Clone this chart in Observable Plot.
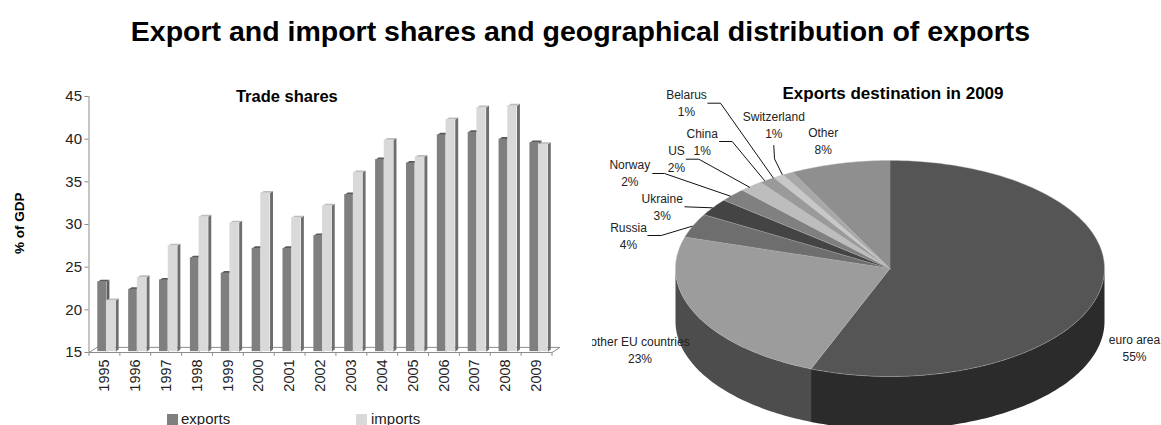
<!DOCTYPE html>
<html><head><meta charset="utf-8">
<script src="https://cdn.jsdelivr.net/npm/d3@7"></script>
<script src="https://cdn.jsdelivr.net/npm/@observablehq/plot@0.6"></script>
<style>
html,body{margin:0;padding:0;width:1161px;height:425px;overflow:hidden;background:#fff}
body{position:relative;font-family:"Liberation Sans",sans-serif;color:#222}
#title{position:absolute;left:0;top:15px;width:1161px;text-align:center;font:bold 28.5px "Liberation Sans",Arial,sans-serif;color:#000;line-height:32px;white-space:nowrap}
#left{position:absolute;left:0;top:80px;width:590px;height:330px;overflow:hidden}
#right{position:absolute;left:592px;top:80px;width:569px;height:345px;overflow:hidden}
#legend{position:absolute;left:0;top:411px;width:590px;height:14px;font-size:15px;line-height:16px}
#legend span{position:absolute;white-space:nowrap}
#legend i{position:absolute;top:3px;width:11px;height:11px}
svg{display:block;background:transparent}
</style></head><body>
<div id="title">Export and import shares and geographical distribution of exports</div>
<div id="left"></div>
<div id="legend"></div>
<div id="right"></div>
<script>
const years = ["1995","1996","1997","1998","1999","2000","2001","2002","2003","2004","2005","2006","2007","2008","2009"];
const exportsShare = [23.3,22.4,23.5,26.1,24.3,27.2,27.2,28.7,33.5,37.6,37.2,40.5,40.8,40.0,39.6];
const importsShare = [21.1,23.8,27.5,30.9,30.2,33.7,30.8,32.2,36.1,39.9,37.9,42.3,43.7,43.9,39.4];
const yTicks = [15,20,25,30,35,40,45];

const destinations = ["euro area","other EU countries","Russia","Ukraine","Norway","US","China","Belarus","Switzerland","Other"];
const printedShares = [55,23,4,3,2,2,1,1,1,8];
const sliceShares = [56.0,23.7,3.6,2.6,2.0,1.8,1.2,0.8,0.8,7.5];
const topColors = ["#555555","#9c9c9c","#6e6e6e","#444444","#808080","#bdbdbd","#9a9a9a","#c8c8c8","#a8a8a8","#8f8f8f"];
const wallColors = ["#2b2b2b","#4d4d4d"];

// ---- Bar chart ----
const barLeft = {x0:.285,x1:.566}, barRight = {x0:.566,x1:.866};
const depthX = .095, depthY = .24, base = 15.1;
function faces(values, slot, side, top, prefix){
  const out=[];
  values.forEach((v,i)=>{
    const a=i+slot.x0,b=i+slot.x1;
    [[b,base],[b+depthX,base+depthY],[b+depthX,v+depthY],[b,v]].forEach(p=>out.push({x:p[0],y:p[1],z:prefix+i+"s",c:side}));
    [[a,v],[a+depthX,v+depthY],[b+depthX,v+depthY],[b,v]].forEach(p=>out.push({x:p[0],y:p[1],z:prefix+i+"t",c:top}));
  });
  return out;
}
const poly = (data)=>Plot.line(data,{x:"x",y:"y",z:"z",fill:"c",stroke:null,curve:"linear"});
const front = (values,slot,fill)=>Plot.rect(values,{x1:(d,i)=>i+slot.x0,x2:(d,i)=>i+slot.x1,y1:base,y2:d=>d,fill});
const axisGrey="#8c8c8c", ink="#222";
const bandEdges=d3.range(0,16);
const floorDX=.26, floorDY=.6;
const left=Plot.plot({
  width:590,height:330,margin:0,
  style:{fontFamily:'"Liberation Sans",sans-serif',background:"transparent",color:ink,overflow:"hidden"},
  x:{domain:[0,15],range:[88.5,551.5],axis:null},
  y:{domain:[15,45],range:[272,16],axis:null},
  color:{type:"identity"},
  marks:[
    Plot.line([{x:0,y:15},{x:floorDX,y:15+floorDY},{x:15+floorDX,y:15+floorDY},{x:15,y:15}],{x:"x",y:"y",stroke:axisGrey,strokeWidth:1}),
    Plot.ruleX([0],{y1:15,y2:45,stroke:axisGrey}),
    Plot.ruleY([15],{x1:0,x2:15,stroke:axisGrey}),
    Plot.text(yTicks,{x:0,y:d=>d,text:d=>String(d),dx:-7,textAnchor:"end",fontSize:15,fill:ink}),
    Plot.ruleY(yTicks,{x1:-.13,x2:0,stroke:axisGrey}),
    Plot.ruleX(bandEdges,{y1:15,y2:14.55,stroke:axisGrey}),
    poly(faces(exportsShare,barLeft,"#5f5f5f","#585858","e")),
    front(exportsShare,barLeft,"#7f7f7f"),
    poly(faces(importsShare,barRight,"#6e6e6e","#bdbdbd","i")),
    front(importsShare,barRight,"#d9d9d9"),
    Plot.text(years,{x:(d,i)=>i+.5,y:15,text:d=>d,dy:23,rotate:-90,fontSize:14.5,fill:ink}),
    Plot.text(["Trade shares"],{x:6.41,y:45,text:d=>d,fontWeight:"bold",fontSize:16.5,fill:"#000"}),
    Plot.text(["% of GDP"],{x:0,y:30.15,dx:-69.5,text:d=>d,rotate:-90,fontWeight:"bold",fontSize:13.5,fill:"#000"})
  ]
});
document.getElementById("left").append(left);

// legend
const legend=document.getElementById("legend");
[["exports","#7f7f7f",167,181],["imports","#d9d9d9",356,371]].forEach(([t,c,sx,tx])=>{
  const i=document.createElement("i");i.style.left=sx+"px";i.style.background=c;legend.append(i);
  const s=document.createElement("span");s.textContent=t;s.style.left=tx+"px";s.style.top="0";legend.append(s);
});

// ---- 3D pie ----
const rx=214.5, ry=108, wall=53/ry;
const cum=[0];sliceShares.forEach(v=>cum.push(cum[cum.length-1]+v));
const total=cum[cum.length-1];
const ang=p=>p/total*2*Math.PI;
const rim=(a)=>[Math.sin(a),Math.cos(a)];
function arc(a0,a1){const n=Math.max(2,Math.ceil((a1-a0)/.02));return d3.range(n+1).map(k=>a0+(a1-a0)*k/n);}
const topPts=[];
destinations.forEach((d,i)=>{
  topPts.push({x:0,y:0,z:d,c:topColors[i]});
  arc(ang(cum[i]),ang(cum[i+1])).forEach(a=>{const p=rim(a);topPts.push({x:p[0],y:p[1],z:d,c:topColors[i]});});
});
const wallPts=[];
function addWall(name,a0,a1,c){
  const ar=arc(a0,a1);
  ar.forEach(a=>{const p=rim(a);wallPts.push({x:p[0],y:p[1],z:name,c});});
  ar.slice().reverse().forEach(a=>{const p=rim(a);wallPts.push({x:p[0],y:p[1]-wall,z:name,c});});
}
addWall("w0",Math.PI/2,ang(cum[1]),wallColors[0]);
addWall("w1",ang(cum[1]),3*Math.PI/2,wallColors[1]);

// x,y of the panel use the ellipse unit; layout below is in pixels of the page
const px=x=>(x-889.5)/rx, py=y=>-(y-268)/ry;
const labelLayout=[
  {x:1134,y:346.5},{x:639.5,y:349},{x:628,y:235},{x:661.7,y:206},{x:629.3,y:171.5},
  {x:676,y:158},{x:701.7,y:141},{x:686,y:102},{x:773.3,y:123.5},{x:822.7,y:139.5}
];
const leaderLayout=[
  [[691.7,225.7],[660.7,235],[647.3,235]],
  [[711.7,207.3],[684.3,206.3]],
  [[730,195.7],[664,173],[652.3,173]],
  [[749,186.7],[698.3,158.7],[685.7,158.7]],
  [[764,180],[731.7,141],[719,141]],
  [[772.7,177.3],[720,102.7],[707.3,102.7]],
  [[781.7,174],[774,158.3],[773.3,145]]
];
const leaders=leaderLayout.flatMap((l,i)=>l.map(p=>({x:px(p[0]),y:py(p[1]),z:i})));
const pieLabels=destinations.map((d,i)=>({t:d+"\n"+printedShares[i]+"%",x:px(labelLayout[i].x),y:py(labelLayout[i].y)}));
const right=Plot.plot({
  width:569,height:345,margin:0,
  style:{fontFamily:'"Liberation Sans",sans-serif',background:"transparent",color:ink,overflow:"hidden"},
  x:{domain:[-1,1],range:[889.5-592-rx,889.5-592+rx],axis:null},
  y:{domain:[-1,1],range:[188+ry,188-ry],axis:null},
  color:{type:"identity"},
  marks:[
    Plot.line(wallPts,{x:"x",y:"y",z:"z",fill:"c",stroke:null,curve:"linear"}),
    Plot.line(topPts,{x:"x",y:"y",z:"z",fill:"c",stroke:"#b5b5b5",strokeWidth:.4,curve:"linear"}),
    Plot.line(leaders,{x:"x",y:"y",z:"z",stroke:"#111",strokeWidth:1,curve:"linear"}),
    Plot.text(pieLabels,{x:"x",y:"y",text:"t",fontSize:12,lineHeight:1.42,fill:ink}),
    Plot.text(["Exports destination in 2009"],{x:px(892.5),y:py(93),text:d=>d,fontWeight:"bold",fontSize:17,fill:"#000"})
  ]
});
document.getElementById("right").append(right);
</script>
</body></html>
